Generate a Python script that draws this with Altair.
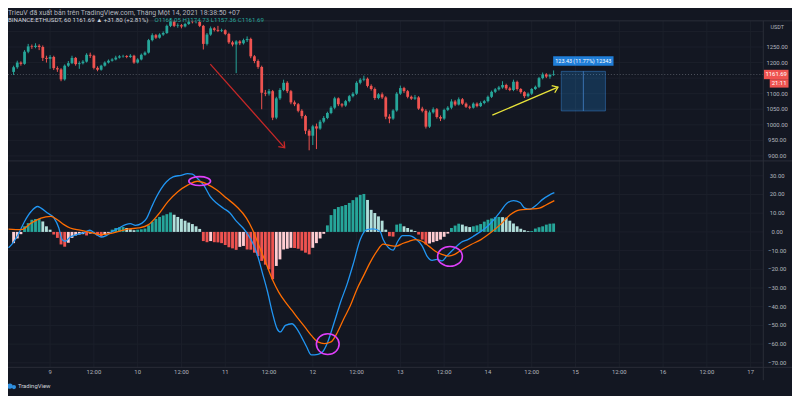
import altair as alt
import pandas as pd

# ---------------- data (hours counted from Jan 9 00:00) ----------------
hours = list(range(-10, 139))

opens = [
    1170, 1185, 1200, 1196, 1235, 1252, 1250, 1254, 1250, 1215,
    1212, 1218, 1182, 1178, 1146, 1190, 1198, 1215, 1195, 1198,
    1203, 1225, 1222, 1183, 1177, 1190, 1200, 1206, 1210, 1216,
    1220, 1221, 1218, 1222, 1200, 1210, 1225, 1232, 1272, 1288,
    1280, 1290, 1295, 1318, 1332, 1318, 1320, 1316, 1324, 1332,
    1330, 1331, 1318, 1260, 1290, 1310, 1305, 1302, 1304, 1292,
    1265, 1258, 1268, 1262, 1272, 1276, 1220, 1205, 1186, 1103,
    1100, 1108, 1023, 1085, 1112, 1135, 1108, 1072, 1066, 1045,
    1028, 981, 965, 995, 988, 1010, 1022, 1038, 1055, 1085,
    1066, 1062, 1076, 1092, 1100, 1135, 1145, 1148, 1125, 1115,
    1086, 1098, 1088, 1026, 1020, 1046, 1100, 1118, 1108, 1090,
    1084, 1088, 1052, 1045, 994, 1040, 1050, 1025, 1020, 1048,
    1055, 1075, 1065, 1082, 1068, 1058, 1055, 1068, 1060, 1070,
    1076, 1090, 1106, 1114, 1120, 1128, 1117, 1112, 1138, 1115,
    1105, 1092, 1100, 1115, 1122, 1150, 1162, 1155, 1160.05,
]
closes = [
    1185, 1200, 1196, 1235, 1252, 1250, 1254, 1250, 1215, 1212,
    1218, 1182, 1178, 1146, 1190, 1198, 1215, 1195, 1198, 1203,
    1225, 1222, 1183, 1177, 1190, 1200, 1206, 1210, 1216, 1220,
    1221, 1218, 1222, 1200, 1210, 1225, 1232, 1272, 1288, 1280,
    1290, 1295, 1318, 1332, 1318, 1320, 1316, 1324, 1332, 1330,
    1331, 1318, 1260, 1290, 1310, 1305, 1302, 1304, 1292, 1265,
    1258, 1268, 1262, 1272, 1276, 1220, 1205, 1186, 1103, 1100,
    1108, 1023, 1085, 1112, 1135, 1108, 1072, 1066, 1045, 1028,
    981, 965, 995, 988, 1010, 1022, 1038, 1055, 1085, 1066,
    1062, 1076, 1092, 1100, 1135, 1145, 1148, 1125, 1115, 1086,
    1098, 1088, 1026, 1020, 1046, 1100, 1118, 1108, 1090, 1084,
    1088, 1052, 1045, 994, 1040, 1050, 1025, 1020, 1048, 1055,
    1075, 1065, 1082, 1068, 1058, 1055, 1068, 1060, 1070, 1076,
    1090, 1106, 1114, 1120, 1128, 1117, 1112, 1138, 1115, 1105,
    1092, 1100, 1115, 1122, 1150, 1162, 1155, 1160.05, 1161.69,
]
highs = [
    1190, 1206, 1204, 1240, 1260, 1258, 1262, 1259, 1255, 1222,
    1224, 1222, 1188, 1182, 1194, 1205, 1222, 1218, 1204, 1208,
    1230, 1232, 1225, 1188, 1193, 1204, 1210, 1214, 1222, 1224,
    1225, 1224, 1227, 1225, 1214, 1229, 1236, 1276, 1294, 1292,
    1294, 1300, 1322, 1342, 1336, 1326, 1324, 1328, 1338, 1336,
    1336, 1334, 1321, 1295, 1316, 1314, 1318, 1309, 1307, 1296,
    1270, 1272, 1272, 1277, 1284, 1280, 1224, 1210, 1190, 1112,
    1115, 1112, 1090, 1118, 1145, 1140, 1112, 1078, 1070, 1050,
    1032, 986, 1000, 1004, 1016, 1028, 1042, 1060, 1090, 1088,
    1070, 1080, 1096, 1105, 1140, 1150, 1158, 1152, 1130, 1120,
    1102, 1104, 1092, 1034, 1050, 1105, 1126, 1122, 1112, 1094,
    1096, 1092, 1058, 1050, 1046, 1056, 1054, 1030, 1052, 1060,
    1082, 1080, 1088, 1086, 1072, 1062, 1072, 1072, 1075, 1080,
    1094, 1110, 1118, 1125, 1140, 1132, 1122, 1145, 1142, 1118,
    1108, 1104, 1118, 1126, 1154, 1168, 1166, 1164, 1174.73,
]
lows = [
    1160, 1180, 1190, 1193, 1230, 1244, 1246, 1240, 1205, 1200,
    1180, 1176, 1170, 1140, 1142, 1186, 1195, 1190, 1180, 1194,
    1200, 1215, 1178, 1172, 1174, 1187, 1197, 1203, 1207, 1213,
    1216, 1214, 1215, 1196, 1197, 1207, 1222, 1229, 1268, 1276,
    1277, 1286, 1292, 1314, 1314, 1312, 1310, 1313, 1321, 1326,
    1326, 1314, 1242, 1255, 1286, 1300, 1298, 1298, 1288, 1260,
    1252, 1166, 1256, 1258, 1266, 1214, 1198, 1180, 1050, 1092,
    1094, 1015, 1018, 1080, 1108, 1102, 1066, 1060, 1040, 1020,
    970, 918, 935, 922, 984, 1005, 1018, 1034, 1050, 1060,
    1056, 1058, 1072, 1088, 1096, 1130, 1140, 1120, 1110, 1080,
    1082, 1083, 1018, 1005, 1016, 1042, 1096, 1102, 1085, 1080,
    1080, 1048, 1040, 988, 990, 1036, 1020, 1012, 1016, 1044,
    1050, 1060, 1062, 1064, 1054, 1050, 1052, 1056, 1057, 1066,
    1072, 1086, 1102, 1110, 1116, 1112, 1108, 1108, 1110, 1100,
    1086, 1088, 1096, 1112, 1118, 1146, 1150, 1148, 1157.36,
]
hist_values = [
    -6.0, -3.5, -1.2, 3.0, 4.7, 6.5, 6.9, 7.0, 5.6, 3.0,
    1.2, -1.4, -3.2, -6.7, -7.9, -5.8, -3.2, -1.9, -1.4, -1.2,
    -1.9, -0.9, -0.3, -1.9, -2.6, -1.5, -0.5, 1.2, 2.1, 2.5,
    2.6, 2.1, 1.4, 0.9, 1.2, 1.4, 1.8, 3.5, 5.5, 7.0,
    8.0, 8.8, 9.5, 10.4, 9.2, 8.0, 7.0, 6.0, 5.0, 4.2,
    3.0, 1.6, -4.9, -5.5, -4.9, -5.5, -5.6, -6.0, -7.0, -8.2,
    -8.8, -9.6, -8.0, -7.5, -9.4, -9.5, -11.1, -12.9, -15.5, -17.5,
    -20.0, -25.3, -18.2, -14.7, -9.4, -9.0, -8.5, -8.6, -9.0, -10.0,
    -11.1, -12.0, -8.5, -6.0, -3.5, -1.0, 3.5, 9.0, 12.2, 13.3,
    13.8, 14.4, 15.5, 17.0, 18.5, 19.8, 20.3, 17.1, 11.8, 10.1,
    8.3, 6.0, 1.2, -2.3, -2.5, 3.9, 4.4, 3.0, 2.1, 1.2,
    0.5, -1.4, -4.1, -6.7, -6.2, -5.5, -4.9, -4.1, -2.6, -0.9,
    2.1, 3.4, 4.4, 3.9, 3.0, 2.6, 3.0, 3.5, 4.2, 5.5,
    6.5, 7.2, 7.9, 8.0, 7.9, 7.6, 6.0, 4.5, 3.0, 1.7,
    0.9, 0.4, 0.5, 1.8, 2.5, 3.0, 3.9, 4.4, 4.5,
]

macd_h = [-11.4, -10.5, -8.75, -7, -5.2, -3.4, -2.5, -0.7, 1.1, 2.4, 3.3, 4.2, 5.5, 7.3, 9.1,
          10.9, 12.7, 14, 15.4, 17.1, 18.9, 20.7, 22, 23.4, 25.2, 26.5, 27.9, 29.2, 30.5, 31.9,
          33.7, 35.9, 37.7, 39, 40.4, 42.1, 43.9, 45.7, 47.5, 49.3, 51.1, 52.9, 54.2, 55.5, 56.9,
          58.2, 59.6, 60.9, 62.2, 63.1, 64.5, 66.3, 67.6, 68.9, 70.3, 71.6, 73.4, 74.7, 76.1, 77.9,
          79.6, 81.4, 83.2, 85, 86.8, 88.6, 90.4, 91.3, 93.1, 94, 95.3, 96.6, 98.4, 100.2, 102,
          103.3, 104.7, 106, 107.4, 108.7, 110.5, 112.7, 114.5, 116.3, 118.1, 119.9, 121.6, 123.4,
          125.2, 127, 128.8, 130.1, 131.5, 133.3, 135, 136.8, 138.2]
macd_v = [-8.5, -6.7, -1.4, 5.6, 10.9, 13.6, 12.7, 10.1, 7.4, 2.1, -4.1, -5.0, -2.7, -1.4, -0.5,
          0.9, -1.4, -2.8, -2.0, 0.3, 2.1, 3.9, 4.4, 3.5, 4.7, 7.4, 13.6, 18.9, 23.3, 26.8,
          29.4, 30.3, 31.2, 30.9, 28.6, 25.0, 18.9, 15.3, 12.7, 10.1, 5.6, 2.1, -1.4, -5.8, -12.9,
          -22.0, -32.0, -43.0, -51.7, -53.5, -50.0, -49.1, -51.7, -56.1, -61.4, -65.8, -65.5, -64.1, -58.8, -48.2,
          -37.6, -27.9, -16.4, -4.1, 1.2, 1.6, 0.3, -4.1, -9.0, -9.7, -5.0, -2.0, -2.0, -3.7, -7.6,
          -12.9, -15.2, -14.7, -15.5, -12.9, -9.4, -5.5, -4.1, -2.0, 0.3, 3.0, 6.5, 10.9,
          15.3, 16.7, 15.7, 12.7, 12.2, 14.4, 17.4, 19.7, 21.0]

signal_h = [-11.4, -7.9, -5.2, -2.5, 0.2, 2, 3.8, 5.5, 8.2, 10.9, 13.6, 16.3, 18.9, 21.6, 24.3,
            27, 29.6, 32.3, 35, 37.7, 40.4, 43, 45.7, 48.4, 51.1, 53.8, 55.5, 57.3, 59.1, 60.9,
            62.7, 64.5, 66.3, 68, 69.8, 71.6, 73.4, 75.2, 77, 78.8, 80.5, 82.3, 84.1, 85.9, 87.7,
            89.5, 91.3, 93.1, 94.9, 96.6, 98.4, 100.2, 102, 103.8, 105.6, 107.4, 109.1, 110.9,
            112.7, 115.4, 118.1, 120.7, 123.4, 126.1, 128.8, 131.5, 134.1, 135.9, 138.2]
signal_v = [1.5, 1.2, 4.7, 7.4, 8.3, 6.5, 3.9, 2.1, 0.9, -0.2, -1.4, -0.9, 0.3, 1.6, 2.1,
            3.9, 9.2, 16.2, 21.5, 25.0, 27.1, 25.6, 22.4, 18.0, 13.6, 7.4, 1.2, -7.6, -16.4, -25.3,
            -32.3, -37.6, -42.0, -46.4, -50.8, -55.3, -58.8, -59.7, -58.8, -53.5, -46.4, -39.4, -30.6, -23.5, -16.4,
            -10.5, -6.5, -7.2, -7.6, -6.2, -5.0, -4.1, -5.0, -7.6, -10.3, -12.0, -12.9, -12.0,
            -9.7, -6.7, -4.1, -0.5, 3.9, 9.2, 11.8, 12.2, 12.7, 14.4, 16.7]

price_ticks = [1250, 1200, 1100, 1050, 1000, 950, 900]
price_grid = [900, 950, 1000, 1050, 1100, 1150, 1200, 1250, 1300]
macd_ticks = [30, 20, 10, 0, -10, -20, -30, -40, -50, -60, -70]
time_tick_h = [0, 12, 24, 36, 48, 60, 72, 84, 96, 108, 120, 132, 144, 156, 168, 180, 192]
time_tick_labels = ["9", "12:00", "10", "12:00", "11", "12:00", "12", "12:00", "13",
                    "12:00", "14", "12:00", "15", "12:00", "16", "12:00", "17"]

last_price = 1161.69
countdown = "21:11"

red_arrow_h = [43.9, 64.3]
red_arrow_p = [1195, 926]
yellow_arrow_h = [121.2, 139.2]
yellow_arrow_p = [1031, 1121]

range_box_h = [140.1, 152.2]
range_box_p = [1044.5, 1171.8]
range_label = "123.43 (11.77%) 12343"

circle_h = [41.0, 76.1, 109.6]
circle_v = [27.2, -60.0, -13.1]

header_1 = "TrieuV đã xuất bản trên TradingView.com, Tháng Một 14, 2021 18:38:50 +07"
header_2a = "BINANCE:ETHUSDT, 60  1161.69 ▲ +31.80 (+2.81%)"
header_2b = "O1160.05 H1174.73 L1157.36 C1161.69"

assert len(opens) == len(closes) == len(highs) == len(lows) == len(hist_values) == len(hours)
assert len(macd_h) == len(macd_v) and len(signal_h) == len(signal_v)

# ---------------- styling ----------------
W, H = 792, 388
BG = "#131722"
GRID = "#1b1f2b"
BORDER = "#2a2e39"
TXT = "#b2b5be"
UP = "#26a69a"
DOWN = "#ef5350"
FONT = "Roboto"

x_scale = alt.Scale(domain=[-10.18, 201.98], nice=False, zero=False)
p_scale = alt.Scale(domain=[885.5, 1330.9], range=[152, 12], nice=False, zero=False)
m_scale = alt.Scale(domain=[-72.4, 37.7], range=[361, 153], nice=False, zero=False)

X = alt.X("h:Q", scale=x_scale, axis=None)


def rect_path(w, h):
    r = h / w
    return f"M-1,{-r:.4f}L1,{-r:.4f}L1,{r:.4f}L-1,{r:.4f}Z"


def ellipse_path(w, h):
    r = h / w
    k = 0.5523
    return (f"M-1,0C-1,{-r*k:.4f} {-k},{-r:.4f} 0,{-r:.4f}"
            f"C{k},{-r:.4f} 1,{-r*k:.4f} 1,0"
            f"C1,{r*k:.4f} {k},{r:.4f} 0,{r:.4f}"
            f"C{-k},{r:.4f} -1,{r*k:.4f} -1,0Z")


CHEVRON = "M-1,-0.75L0,0L-1,0.75"

# ---------------- price pane ----------------
candles = pd.DataFrame({"h": hours, "open": opens, "high": highs, "low": lows, "close": closes})
candles["color"] = [UP if c >= o else DOWN for o, c in zip(opens, closes)]

pgrid = alt.Chart(pd.DataFrame({"p": price_grid})).mark_rule(color=GRID, strokeWidth=1).encode(
    y=alt.Y("p:Q", scale=p_scale, axis=None), x=alt.value(0), x2=alt.value(763))

plabels = alt.Chart(pd.DataFrame({"p": price_ticks, "t": [f"{p:.2f}" for p in price_ticks]})).mark_text(
    font=FONT, fontSize=6, color=TXT, align="center", baseline="middle").encode(
    y=alt.Y("p:Q", scale=p_scale, axis=None), x=alt.value(777), text="t:N")

pline = alt.Chart(pd.DataFrame({"p": [last_price]})).mark_rule(
    color="#6b6f7a", strokeWidth=1, strokeDash=[1, 2], opacity=0.7).encode(
    y=alt.Y("p:Q", scale=p_scale, axis=None), x=alt.value(0), x2=alt.value(763))

wicks = alt.Chart(candles).mark_rule(strokeWidth=1, clip=True).encode(
    x=X, y=alt.Y("low:Q", scale=p_scale, axis=None), y2="high:Q",
    color=alt.Color("color:N", scale=None))

bodies = alt.Chart(candles).mark_bar(size=2.8, clip=True).encode(
    x=X, y=alt.Y("open:Q", scale=p_scale, axis=None), y2="close:Q",
    color=alt.Color("color:N", scale=None))

box_df = pd.DataFrame({"h1": [range_box_h[0]], "h2": [range_box_h[1]],
                       "p1": [range_box_p[0]], "p2": [range_box_p[1]],
                       "hm": [sum(range_box_h) / 2]})
box = alt.Chart(box_df).mark_rect(fill="#2196f3", fillOpacity=0.22, stroke="#3a86d4",
                                  strokeOpacity=0.6, strokeWidth=0.8).encode(
    x=alt.X("h1:Q", scale=x_scale, axis=None), x2="h2:Q",
    y=alt.Y("p1:Q", scale=p_scale, axis=None), y2="p2:Q")
box_mid = alt.Chart(box_df).mark_rule(color="#4a90d9", opacity=0.7, strokeWidth=1).encode(
    x=alt.X("hm:Q", scale=x_scale, axis=None), y=alt.Y("p1:Q", scale=p_scale, axis=None), y2="p2:Q")
box_lbl = alt.Chart(box_df).mark_point(shape=rect_path(61, 9.5), size=61 * 61, filled=True,
                                       color="#1f7ed8", opacity=1, yOffset=-10.5).encode(
    x=alt.X("hm:Q", scale=x_scale, axis=None), y=alt.Y("p2:Q", scale=p_scale, axis=None))
box_txt = alt.Chart(box_df.assign(t=[range_label])).mark_text(
    font=FONT, fontSize=5.5, color="white", align="center", baseline="middle", dy=-10.5).encode(
    x=alt.X("hm:Q", scale=x_scale, axis=None), y=alt.Y("p2:Q", scale=p_scale, axis=None), text="t:N")

red_df = pd.DataFrame({"h": red_arrow_h, "p": red_arrow_p})
yel_df = pd.DataFrame({"h": yellow_arrow_h, "p": yellow_arrow_p})
red_line = alt.Chart(red_df).mark_line(color="#c62828", strokeWidth=1.3).encode(
    x=X, y=alt.Y("p:Q", scale=p_scale, axis=None))
red_head = alt.Chart(red_df.tail(1)).mark_point(shape=CHEVRON, size=110, filled=False, color="#c62828",
                                                strokeWidth=1.3, opacity=1, angle=48).encode(
    x=X, y=alt.Y("p:Q", scale=p_scale, axis=None))
yel_line = alt.Chart(yel_df).mark_line(color="#e8e33a", strokeWidth=1.3).encode(
    x=X, y=alt.Y("p:Q", scale=p_scale, axis=None))
yel_head = alt.Chart(yel_df.tail(1)).mark_point(shape=CHEVRON, size=110, filled=False, color="#e8e33a",
                                                strokeWidth=1.3, opacity=1, angle=337).encode(
    x=X, y=alt.Y("p:Q", scale=p_scale, axis=None))

tag_df = pd.DataFrame({"p": [last_price], "t": [f"{last_price:.2f}"], "c": [countdown]})
tag_box = alt.Chart(tag_df).mark_point(shape=rect_path(25, 9.5), size=625, filled=True,
                                       color=DOWN, opacity=1).encode(
    x=alt.value(776), y=alt.Y("p:Q", scale=p_scale, axis=None))
tag_txt = alt.Chart(tag_df).mark_text(font=FONT, fontSize=6, color="white", align="center",
                                      baseline="middle").encode(
    x=alt.value(776), y=alt.Y("p:Q", scale=p_scale, axis=None), text="t:N")
tag2_box = alt.Chart(tag_df).mark_point(shape=rect_path(19, 8.5), size=361, filled=True,
                                        color=DOWN, opacity=1, yOffset=9).encode(
    x=alt.value(779), y=alt.Y("p:Q", scale=p_scale, axis=None))
tag2_txt = alt.Chart(tag_df).mark_text(font=FONT, fontSize=6, color="white", align="center",
                                       baseline="middle", dy=9).encode(
    x=alt.value(779), y=alt.Y("p:Q", scale=p_scale, axis=None), text="c:N")

price_pane = alt.layer(pgrid, plabels, pline, wicks, bodies, box, box_mid, red_line, red_head,
                       yel_line, yel_head, box_lbl, box_txt, tag_box, tag_txt, tag2_box, tag2_txt)

# ---------------- MACD pane ----------------
hist_colors = []
prev = None
for v in hist_values:
    rising = prev is None or v > prev
    if v >= 0:
        hist_colors.append("#26a69a" if rising else "#b2dfdb")
    else:
        hist_colors.append("#ffcdd2" if rising else "#ef5350")
    prev = v
hist_df = pd.DataFrame({"h": hours, "v": hist_values, "color": hist_colors})

mgrid = alt.Chart(pd.DataFrame({"v": macd_ticks})).mark_rule(color=GRID, strokeWidth=1).encode(
    y=alt.Y("v:Q", scale=m_scale, axis=None), x=alt.value(0), x2=alt.value(763))
mlabels = alt.Chart(pd.DataFrame({"v": macd_ticks,
                                  "t": [f"{v:.2f}".replace("-", "\u2212") for v in macd_ticks]})).mark_text(
    font=FONT, fontSize=6, color=TXT, align="center", baseline="middle").encode(
    y=alt.Y("v:Q", scale=m_scale, axis=None), x=alt.value(777), text="t:N")

hist = alt.Chart(hist_df).mark_bar(size=2.9, clip=True).encode(
    x=X, y=alt.Y("v:Q", scale=m_scale, axis=None), y2=alt.datum(0),
    color=alt.Color("color:N", scale=None))

macd_line = alt.Chart(pd.DataFrame({"h": macd_h, "v": macd_v})).mark_line(
    color="#2196f3", strokeWidth=1.3, interpolate="monotone", clip=True).encode(
    x=X, y=alt.Y("v:Q", scale=m_scale, axis=None))
signal_line = alt.Chart(pd.DataFrame({"h": signal_h, "v": signal_v})).mark_line(
    color="#ff6d00", strokeWidth=1.3, interpolate="monotone", clip=True).encode(
    x=X, y=alt.Y("v:Q", scale=m_scale, axis=None))

ellipse_px = [(22, 9), (23, 21), (25, 20)]
ellipses = []
for hh, vv, (ew, eh) in zip(circle_h, circle_v, ellipse_px):
    ellipses.append(
        alt.Chart(pd.DataFrame({"h": [hh], "v": [vv]})).mark_point(
            shape=ellipse_path(ew, eh), size=ew * ew, filled=False, color="#e040fb",
            strokeWidth=1.6, opacity=1).encode(x=X, y=alt.Y("v:Q", scale=m_scale, axis=None)))

macd_pane = alt.layer(mgrid, mlabels, hist, macd_line, signal_line, *ellipses)

# ---------------- frame, time axis, texts ----------------
vgrid = alt.Chart(pd.DataFrame({"h": time_tick_h})).mark_rule(color=GRID, strokeWidth=1).encode(
    x=X, y=alt.value(11), y2=alt.value(361))

tlabels = alt.Chart(pd.DataFrame({"h": time_tick_h, "t": time_tick_labels})).mark_text(
    font=FONT, fontSize=6, color=TXT, align="center", baseline="middle").encode(
    x=X, y=alt.value(366), text="t:N")

one = pd.DataFrame({"a": [0]})


def hrule(y, x1=0, x2=W):
    return alt.Chart(one).mark_rule(color=BORDER, strokeWidth=1).encode(
        y=alt.value(y), x=alt.value(x1), x2=alt.value(x2))


def vrule(x, y1, y2):
    return alt.Chart(one).mark_rule(color=BORDER, strokeWidth=1).encode(
        x=alt.value(x), y=alt.value(y1), y2=alt.value(y2))


def label(text, x, y, size=6, color=TXT, font=FONT, align="left", baseline="middle", weight="normal"):
    return alt.Chart(pd.DataFrame({"t": [text]})).mark_text(
        font=font, fontSize=size, color=color, align=align, baseline=baseline, fontWeight=weight).encode(
        x=alt.value(x), y=alt.value(y), text="t:N")


frame = alt.layer(
    hrule(11), hrule(152.5), hrule(361), vrule(763, 11, 374),
    tlabels,
    label(header_1, 0, 3, size=7),
    label(header_2a, 0, 10, size=6.2, color="#d1d4dc"),
    label(header_2b, 148, 10, size=6.2, color="#26a69a"),
    label("USDT", 777, 17, size=5.5, align="center"),
    alt.Chart(pd.DataFrame({"x": [0]})).mark_point(shape="circle", size=30, filled=True,
                                                   color="#2f8fdf", opacity=1).encode(
        x=alt.value(2), y=alt.value(380)),
    alt.Chart(pd.DataFrame({"x": [0]})).mark_point(shape="circle", size=18, filled=True,
                                                   color="#2f8fdf", opacity=1).encode(
        x=alt.value(6), y=alt.value(381)),
    label("TradingView", 10, 380, size=6, color="#d1d4dc"),
)

chart = alt.layer(vgrid, price_pane, macd_pane, frame).resolve_scale(y="independent").properties(
    width=W, height=H, padding=0, background=BG,
    autosize=alt.AutoSizeParams(type="none"),
).configure_view(stroke=None)

chart.save("out.html", embed_options={"renderer": "svg", "actions": False})
